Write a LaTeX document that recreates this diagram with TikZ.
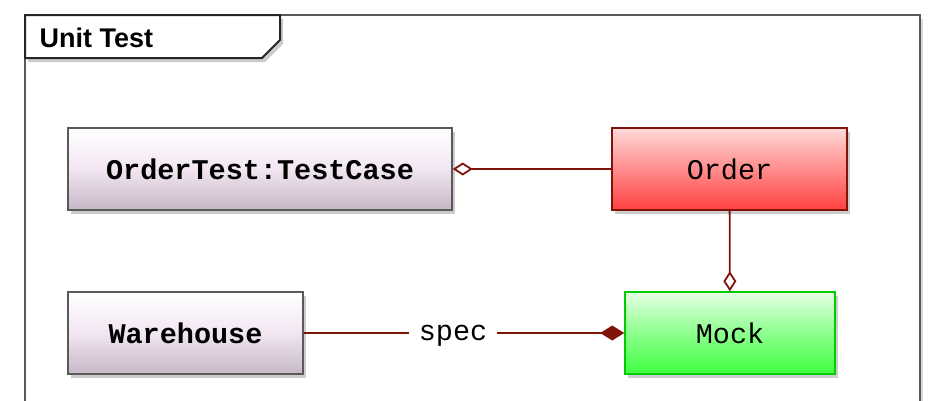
\documentclass[tikz,border=0pt]{standalone}
\usepackage{fontspec}
\setmainfont{Liberation Sans}
\setmonofont{Liberation Mono}
\usetikzlibrary{shadows,arrows.meta}
\definecolor{lnk}{RGB}{128,20,10}
\tikzset{
 cls/.style={draw=gray!70!black, line width=1.5pt, minimum height=82pt, inner sep=0pt, drop shadow={shadow xshift=3pt,shadow yshift=-4pt,opacity=0.4}, font=\ttfamily\fontsize{28.5pt}{28.5pt}\selectfont},
 lav/.style={cls, top color=white, bottom color=violet!25!gray!45, middle color=violet!10, font=\ttfamily\bfseries\fontsize{28.5pt}{28.5pt}\selectfont},
 conn/.style={draw=lnk, line width=1.8pt},
}
\begin{document}
\begin{tikzpicture}[x=1pt,y=-1pt]
\useasboundingbox (0,0) rectangle (947,400);
\fill[white] (0,0) rectangle (947,400);
\draw[gray!70!black, line width=2pt, drop shadow={shadow xshift=3pt,shadow yshift=-4pt,opacity=0.3}, fill=white] (25,15) -- (920,15) -- (920,410) -- (25,410) -- cycle;
\draw[gray!30!black, line width=2pt, fill=white, drop shadow={shadow xshift=3pt,shadow yshift=-4pt,opacity=0.4}] (25,15) -- (280,15) -- (280,40) -- (262,58) -- (25,58) -- cycle;
\node[anchor=west, font=\bfseries\fontsize{27pt}{27pt}\selectfont] (title) at (36,38) {Unit Test};
\node[lav, minimum width=384pt] (ot) at (260,169) {OrderTest:TestCase};
\node[cls, minimum width=235pt, draw=lnk, top color=red!15, bottom color=red!75, middle color=red!45] (order) at (729.5,169) {Order};
\node[lav, minimum width=235pt] (wh) at (185.5,333) {Warehouse};
\node[cls, minimum width=210pt, draw=green!80!black, top color=green!10, bottom color=green!75, middle color=green!45] (mock) at (730,333) {Mock};
\draw[conn, -{Diamond[open,length=20pt,width=13pt]}] (order) -- (ot);
\draw[conn, -{Diamond[open,length=20pt,width=13pt]}] (order) -- (mock);
\node[font=\ttfamily\fontsize{28.5pt}{28.5pt}\selectfont, fill=white, inner sep=10pt, text height=19pt, text depth=4pt] (spec) at (453,333) {spec};
\draw[conn] (wh) -- (spec);
\draw[conn, -{Diamond[length=24pt,width=15pt]}] (spec) -- (mock);
\end{tikzpicture}
\end{document}
